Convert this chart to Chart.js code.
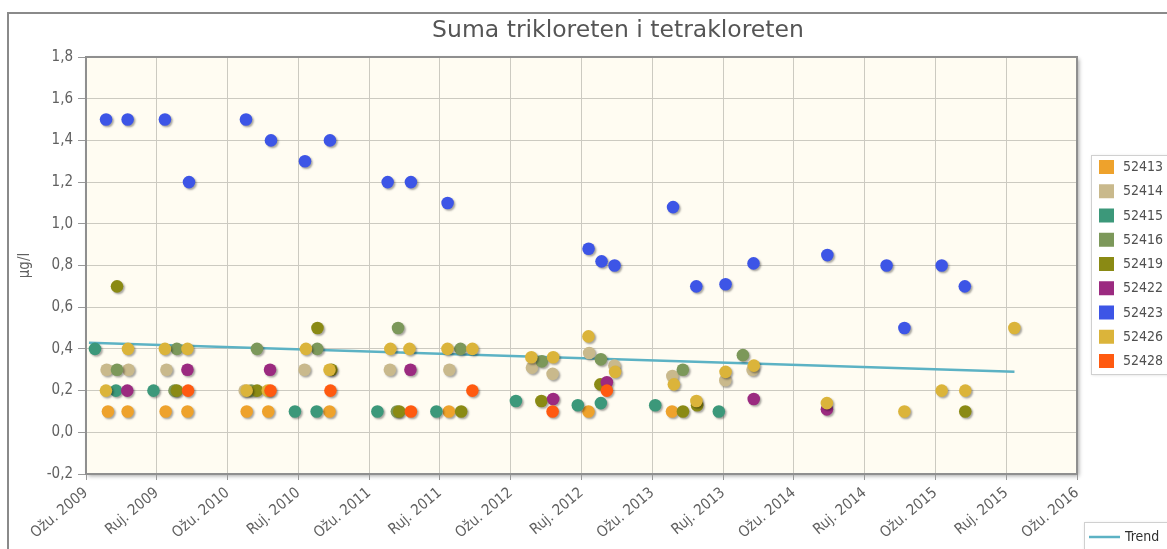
<!DOCTYPE html>
<html>
<head>
<meta charset="utf-8">
<script src="https://cdn.jsdelivr.net/npm/chart.js@4.4.1/dist/chart.umd.min.js"></script>
<style>
html,body{margin:0;padding:0;background:#fff;overflow:hidden}
#wrap{width:1167px;height:549px;position:relative}
</style>
</head>
<body>
<div id="wrap"><canvas id="c" width="1167" height="549"></canvas></div>
<script>
// ---- text ----
const chartTitle = 'Suma trikloreten i tetrakloreten';
const yAxisTitle = 'µg/l';
const trendName = 'Trend';

// ---- x axis: months since March 2009, one tick every 6 months ----
const monthsPerTick = 6;
const xTickLabels = ['Ožu. 2009','Ruj. 2009','Ožu. 2010','Ruj. 2010','Ožu. 2011','Ruj. 2011','Ožu. 2012','Ruj. 2012','Ožu. 2013','Ruj. 2013','Ožu. 2014','Ruj. 2014','Ožu. 2015','Ruj. 2015','Ožu. 2016'];
const yMin = -0.2, yMax = 1.8, yStep = 0.2;

// ---- series: [months since Mar 2009, value µg/l] ----
const seriesNames = ['52413','52414','52415','52416','52419','52422','52423','52426','52428'];
const seriesColors = ['#eea22c','#c9b98c','#3c987a','#7c985a','#8a8a14','#9b2a80','#3d55e6','#dbb43a','#ff5a10'];

const s52413 = [[1.86,0.1],[3.53,0.1],[6.75,0.1],[8.6,0.1],[13.62,0.1],[15.45,0.1],[20.64,0.1],[30.76,0.1],[42.59,0.1],[49.67,0.1]];
const s52414 = [[1.75,0.3],[3.6,0.3],[6.82,0.3],[13.45,0.2],[18.52,0.3],[25.76,0.3],[30.8,0.3],[37.8,0.31],[39.55,0.28],[42.65,0.38],[44.79,0.32],[49.7,0.27],[54.19,0.25],[56.5,0.30]];
const s52415 = [[0.76,0.4],[2.54,0.2],[5.72,0.2],[17.71,0.1],[19.55,0.1],[24.7,0.1],[29.7,0.1],[36.44,0.15],[41.69,0.13],[43.64,0.14],[48.25,0.13],[53.64,0.1]];
const s52416 = [[2.63,0.3],[7.5,0.2],[7.7,0.4],[14.0,0.2],[14.49,0.4],[19.6,0.4],[26.35,0.1],[26.45,0.5],[31.74,0.4],[38.64,0.34],[43.64,0.35],[50.59,0.30],[55.68,0.37]];
const s52419 = [[2.63,0.7],[7.7,0.2],[14.5,0.2],[19.62,0.5],[20.8,0.3],[26.55,0.1],[31.8,0.1],[38.6,0.15],[43.6,0.23],[50.6,0.1],[51.8,0.13],[74.53,0.1]];
const s52422 = [[3.5,0.2],[8.6,0.3],[15.6,0.3],[27.5,0.3],[39.6,0.16],[44.15,0.24],[56.6,0.16],[62.8,0.11]];
const s52423 = [[1.7,1.5],[3.53,1.5],[6.69,1.5],[8.73,1.2],[13.56,1.5],[15.68,1.4],[18.56,1.3],[20.68,1.4],[25.57,1.2],[27.54,1.2],[30.65,1.1],[42.6,0.88],[43.7,0.82],[44.8,0.8],[49.76,1.08],[51.73,0.7],[54.21,0.71],[56.58,0.81],[62.84,0.85],[67.86,0.8],[69.37,0.5],[72.53,0.8],[74.49,0.7]];
const s52426 = [[1.69,0.2],[3.56,0.4],[6.69,0.4],[8.6,0.4],[13.62,0.2],[15.4,0.2],[18.64,0.4],[20.64,0.3],[25.8,0.4],[27.42,0.4],[30.64,0.4],[32.75,0.4],[37.75,0.36],[39.6,0.36],[42.59,0.46],[44.85,0.29],[49.83,0.23],[51.74,0.15],[54.21,0.29],[56.61,0.32],[62.8,0.14],[69.37,0.1],[72.53,0.2],[74.53,0.2],[78.69,0.5]];
const s52428 = [[8.65,0.2],[15.64,0.2],[20.72,0.2],[27.54,0.1],[32.75,0.2],[39.55,0.1],[44.15,0.2]];
const seriesData = [s52413,s52414,s52415,s52416,s52419,s52422,s52423,s52426,s52428];

const trendData = [[0.25,0.43],[78.7,0.29]];
const trendColor = '#5cb2c4';

// ---- styling ----
const FONT = '"DejaVu Sans Condensed", "Liberation Sans", sans-serif';
const TEXT = '#606060';

const toXY = arr => arr.map(p => ({x: p[0], y: p[1]}));

const datasets = seriesNames.map((name, i) => ({
  label: name,
  data: toXY(seriesData[i]),
  backgroundColor: seriesColors[i],
  borderWidth: 0,
  pointRadius: 6.3,
  pointHoverRadius: 6.3,
  order: seriesNames.length - i,
  isSeries: true
}));
datasets.push({
  label: trendName,
  data: toXY(trendData),
  showLine: true,
  borderColor: trendColor,
  backgroundColor: trendColor,
  borderWidth: 2.5,
  pointRadius: 0,
  order: 100
});

const decor = {
  id: 'decor',
  beforeDraw(chart) {
    const {ctx, chartArea: a} = chart;
    ctx.save();
    ctx.strokeStyle = '#8a8a8a';
    ctx.lineWidth = 2;
    ctx.strokeRect(8, 13, 1400, 800);
    ctx.shadowColor = 'rgba(0,0,0,0.35)';
    ctx.shadowBlur = 4;
    ctx.shadowOffsetX = 2;
    ctx.shadowOffsetY = 2;
    ctx.fillStyle = '#fffcf2';
    ctx.fillRect(a.left, a.top, a.width, a.height);
    ctx.restore();
    ctx.save();
    ctx.font = '23.5px "DejaVu Sans", sans-serif';
    ctx.fillStyle = '#555';
    ctx.textAlign = 'center';
    ctx.textBaseline = 'middle';
    ctx.fillText(chartTitle, 618, 31);
    ctx.restore();
  },
  beforeDatasetsDraw(chart) {
    const {ctx, chartArea: a} = chart;
    ctx.save();
    ctx.strokeStyle = '#8f8f8f';
    ctx.lineWidth = 2;
    ctx.strokeRect(a.left, a.top, a.width, a.height);
    ctx.restore();
  },
  beforeDatasetDraw(chart, args) {
    const ds = chart.data.datasets[args.index];
    const ctx = chart.ctx;
    ctx.save();
    if (ds.isSeries) {
      ctx.shadowColor = 'rgba(0,0,0,0.35)';
      ctx.shadowBlur = 2;
      ctx.shadowOffsetX = 1.5;
      ctx.shadowOffsetY = 1.5;
    }
  },
  afterDatasetDraw(chart) {
    chart.ctx.restore();
  },
  afterDraw(chart) {
    const ctx = chart.ctx;
    ctx.save();
    ctx.shadowColor = 'rgba(0,0,0,0.15)';
    ctx.shadowBlur = 3;
    ctx.shadowOffsetX = 1;
    ctx.shadowOffsetY = 1;
    ctx.fillStyle = '#fff';
    ctx.fillRect(1091, 155, 100, 219);
    ctx.shadowColor = 'transparent';
    ctx.strokeStyle = '#d0d0d0';
    ctx.lineWidth = 1;
    ctx.strokeRect(1091.5, 155.5, 100, 219);
    ctx.font = '14px ' + FONT;
    ctx.textAlign = 'left';
    ctx.textBaseline = 'middle';
    seriesNames.forEach((name, i) => {
      const cy = 167 + i * 24.25;
      ctx.fillStyle = seriesColors[i];
      ctx.fillRect(1099, cy - 7, 15, 14);
      ctx.fillStyle = '#505050';
      ctx.fillText(name, 1123, cy + 0.5);
    });
    ctx.shadowColor = 'rgba(0,0,0,0.15)';
    ctx.shadowBlur = 3;
    ctx.shadowOffsetX = 1;
    ctx.shadowOffsetY = 1;
    ctx.fillStyle = '#fff';
    ctx.fillRect(1084, 522, 100, 40);
    ctx.shadowColor = 'transparent';
    ctx.strokeStyle = '#d0d0d0';
    ctx.strokeRect(1084.5, 522.5, 100, 40);
    ctx.strokeStyle = trendColor;
    ctx.lineWidth = 2.5;
    ctx.beginPath();
    ctx.moveTo(1089, 537);
    ctx.lineTo(1120, 537);
    ctx.stroke();
    ctx.fillStyle = '#303030';
    ctx.fillText(trendName, 1125, 537.5);
    ctx.restore();
  }
};

new Chart(document.getElementById('c'), {
  type: 'scatter',
  data: { datasets },
  options: {
    responsive: false,
    animation: false,
    events: [],
    layout: { padding: { left: 0, right: 90, top: 57, bottom: 0 } },
    plugins: {
      legend: { display: false },
      title: { display: false },
      tooltip: { enabled: false }
    },
    scales: {
      x: {
        type: 'linear',
        min: 0,
        max: monthsPerTick * (xTickLabels.length - 1),
        ticks: {
          stepSize: monthsPerTick,
          autoSkip: false,
          minRotation: 40,
          maxRotation: 40,
          padding: 4,
          color: TEXT,
          font: { family: FONT, size: 15 },
          callback: (v, i) => xTickLabels[i]
        },
        grid: { color: '#cccac1', lineWidth: 1, tickLength: 6, tickColor: '#999' },
        border: { display: false },
        afterFit(s) { s.height = 75; }
      },
      y: {
        min: yMin,
        max: yMax,
        ticks: {
          stepSize: yStep,
          padding: 5,
          color: TEXT,
          font: { family: FONT, size: 15 },
          callback: v => v.toFixed(1).replace('.', ',')
        },
        grid: { color: '#cccac1', lineWidth: 1, tickLength: 8, tickColor: '#999' },
        border: { display: false },
        title: {
          display: true,
          text: yAxisTitle,
          color: TEXT,
          font: { family: FONT, size: 15 },
          padding: { top: 16, bottom: 0 }
        },
        afterFit(s) { s.width = 86; }
      }
    }
  },
  plugins: [decor]
});
</script>
</body>
</html>
